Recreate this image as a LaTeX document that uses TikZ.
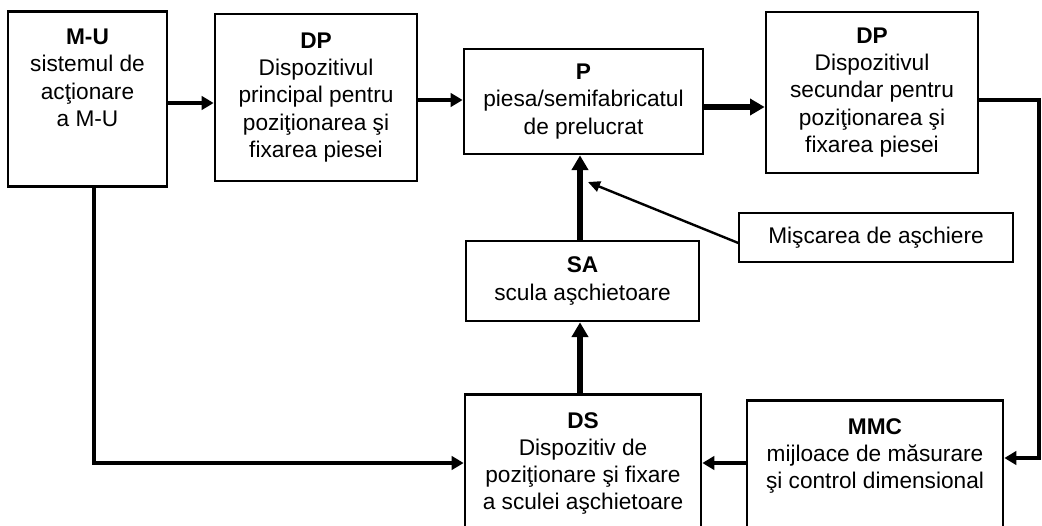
\documentclass[tikz,border=0pt]{standalone}
\usepackage{fontspec}
\setmainfont{Liberation Sans}
\usetikzlibrary{arrows.meta,calc}
\tikzset{
  blok/.style={shape=rectangle,draw,line width=2pt,align=center,inner sep=4pt},
  topblok/.style={blok,anchor=north,inner ysep=13.5pt},
  flux/.style={-{Triangle[length=9pt,width=10pt]},line width=3pt},
  fluxgros/.style={-{Triangle[length=11pt,width=12pt]},line width=5pt},
}
\begin{document}
\begin{tikzpicture}[x=0.75pt,y=-0.75pt,font=\fontsize{17}{20.3}\selectfont]
\clip (0,0) rectangle (1042,525);
\node (MU) at (87.5,10) [topblok,minimum width=119.25pt,text depth=32pt]{\textbf{M-U}\\sistemul de\\acţionare\\a M-U};
\node (DP1) at (316,97.5) [blok,minimum width=151.5pt,minimum height=125.25pt]{\textbf{DP}\\Dispozitivul\\principal pentru\\poziţionarea şi\\fixarea piesei};
\node (P) at (583.5,101.5) [blok,minimum width=179.25pt,minimum height=78.75pt]{\textbf{P}\\piesa/semifabricatul\\de prelucrat};
\node (DP2) at (872,92.5) [blok,minimum width=159pt,minimum height=120.75pt]{\textbf{DP}\\Dispozitivul\\secundar pentru\\poziţionarea şi\\fixarea piesei};
\node (SA) at (582.5,281) [blok,minimum width=174.75pt,minimum height=60pt]{\textbf{SA}\\scula aşchietoare};
\node (MIS) at (876,237.5) [blok,line width=1pt,minimum width=205.5pt,minimum height=36.75pt]{Mişcarea de aşchiere};
\node (DS) at (583,393) [topblok,minimum width=177pt,text depth=60pt]{\textbf{DS}\\Dispozitiv de\\poziţionare şi fixare\\a sculei aşchietoare};
\node (MMC) at (875,399) [topblok,minimum width=192pt,text depth=60pt]{\textbf{MMC}\\mijloace de măsurare\\şi control dimensional};
\coordinate (jos) at (94,463);
\coordinate (dreapta) at (1039,100);
\coordinate (tinta) at (588,182);
\draw [flux] (MU.east |- 0,103) -- (DP1.west |- 0,103);
\draw [flux] (DP1.east |- 0,100) -- (P.west |- 0,100);
\draw [fluxgros] (P.east |- 0,107) -- (DP2.west |- 0,107);
\draw [flux,line width=2.5pt] (DP2.east |- dreapta) -- (dreapta) |- (MMC.east |- 0,458);
\draw [flux] (MU.south -| jos) -- (jos) -- (DS.west |- jos);
\draw [flux,line width=3.5pt] (MMC.west |- 0,463) -- (DS.east |- 0,463);
\draw [fluxgros] (DS.north -| 580,0) -- (SA.south -| 580,0);
\draw [fluxgros] (SA.north -| 580,0) -- (P.south -| 580,0);
\draw [-{Triangle[length=9pt,width=8pt]},line width=1.8pt] (MIS.west |- 0,243) -- (tinta);
\end{tikzpicture}
\end{document}
